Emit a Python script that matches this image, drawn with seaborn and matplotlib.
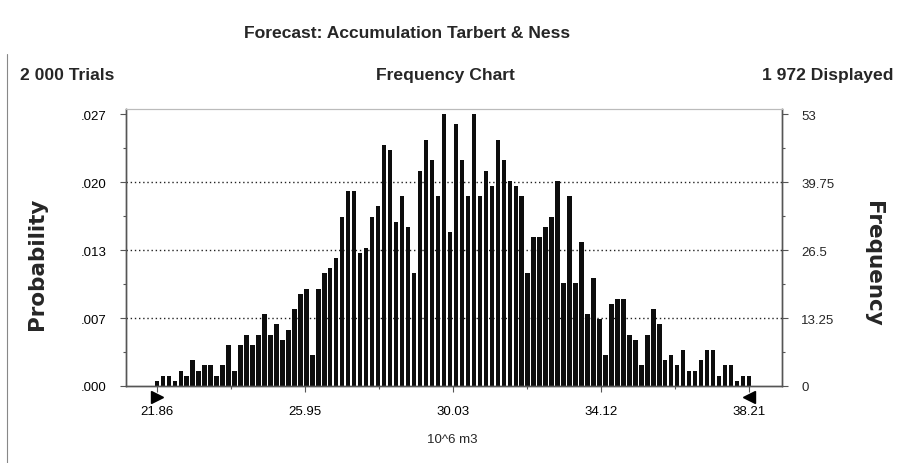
import numpy as np
import pandas as pd
import matplotlib
matplotlib.use("Agg")
import matplotlib.pyplot as plt
import matplotlib.transforms as mtransforms
from matplotlib.lines import Line2D
import seaborn as sns

# ---------------- data ----------------
title = "Forecast: Accumulation Tarbert & Ness"
trials_text = "2 000 Trials"
chart_text = "Frequency Chart"
displayed_text = "1 972 Displayed"
x_label = "10^6 m3"
left_label = "Probability"
right_label = "Frequency"

x_min, x_max = 21.86, 38.21
x_tick_labels = ["21.86", "25.95", "30.03", "34.12", "38.21"]
freq_ticks = [0, 13.25, 26.5, 39.75, 53]
freq_tick_labels = ["0", "13.25", "26.5", "39.75", "53"]
prob_tick_labels = [".000", ".007", ".013", ".020", ".027"]

frequency = [
    1, 2, 2, 1, 3, 2, 5, 3, 4, 4,
    2, 4, 8, 3, 8, 10, 8, 10, 14, 10,
    12, 9, 11, 15, 18, 19, 6, 19, 22, 23,
    25, 33, 38, 38, 26, 27, 33, 35, 47, 46,
    32, 37, 31, 22, 42, 48, 44, 37, 53, 30,
    51, 44, 37, 53, 37, 42, 39, 48, 44, 40,
    39, 37, 22, 29, 29, 31, 33, 40, 20, 37,
    20, 28, 14, 21, 13, 6, 16, 17, 17, 10,
    9, 4, 10, 15, 12, 5, 6, 4, 7, 3,
    3, 5, 7, 7, 2, 4, 4, 1, 2, 2,
]

centers = np.linspace(x_min, x_max, len(frequency))
df = pd.DataFrame({"value": centers, "count": frequency})

# ---------------- style ----------------
sns.set_theme(style="white")
narrow = ["Liberation Sans Narrow", "Liberation Sans", "DejaVu Sans"]
plt.rcParams["font.family"] = ["Liberation Sans", "DejaVu Sans"]

W, H = 899, 464
fig = plt.figure(figsize=(W / 100, H / 100), dpi=100)
fig.patch.set_facecolor("white")

ax_l, ax_r, ax_t, ax_b = 126, 782, 110, 387
ax = fig.add_axes([ax_l / W, 1 - ax_b / H, (ax_r - ax_l) / W, (ax_b - ax_t) / H])
ax.set_facecolor("white")

sns.barplot(data=df, x="value", y="count", native_scale=True, width=0.74,
            color="#0d0d0d", saturation=1, linewidth=0, ax=ax)

ax.set_xlim(21.01, 39.12)
ax.set_ylim(0, 54)

# dotted gridlines
ax.hlines(freq_ticks[1:-1], 21.01, 39.12, colors="#222222", linestyles=(0, (1, 2)),
          linewidth=1.0, zorder=0.5)

# ticks
xt = np.linspace(x_min, x_max, len(x_tick_labels))
ax.set_xticks(xt)
ax.set_xticklabels(x_tick_labels, fontsize=9.5, family=narrow)
ax.set_xticks(np.linspace(x_min, x_max, 2 * len(x_tick_labels) - 1), minor=True)
ax.set_yticks(freq_ticks)
ax.set_yticklabels(prob_tick_labels, fontsize=9.5, family=narrow)
ax.set_yticks([(a + b) / 2 for a, b in zip(freq_ticks[:-1], freq_ticks[1:])], minor=True)
ax.tick_params(axis="both", which="major", direction="out", length=4, width=0.8,
               color="#555555", labelcolor="black")
ax.tick_params(axis="both", which="minor", direction="out", length=2, width=0.8,
               color="#555555")
ax.tick_params(axis="x", which="major", pad=10)
ax.tick_params(axis="y", which="major", pad=10, left=True)
ax.tick_params(axis="x", which="both", bottom=True)
ax.tick_params(axis="y", which="minor", left=True)
ax.set_xlabel("")
ax.set_ylabel("")

ax2 = ax.twinx()
ax2.set_ylim(ax.get_ylim())
ax2.set_yticks(freq_ticks)
ax2.set_yticklabels(freq_tick_labels, fontsize=9.5, family=narrow)
ax2.set_yticks([(a + b) / 2 for a, b in zip(freq_ticks[:-1], freq_ticks[1:])], minor=True)
ax2.tick_params(axis="y", which="major", direction="out", length=4, width=0.8,
                color="#555555", pad=10, right=True)
ax2.tick_params(axis="y", which="minor", direction="out", length=2, width=0.8,
                color="#555555", right=True)
ax2.grid(False)

for a in (ax, ax2):
    for side in ("left", "right", "bottom"):
        a.spines[side].set_color("#555555")
        a.spines[side].set_linewidth(1.0)
        a.spines[side].set_visible(True)
    a.spines["top"].set_color("#bbbbbb")
    a.spines["top"].set_linewidth(0.8)

# range markers below the axis
trans = mtransforms.blended_transform_factory(ax.transData, ax.transAxes)
ax.plot([x_min], [-0.04], marker=">", markersize=9, color="black", transform=trans,
        clip_on=False, linestyle="none")
ax.plot([x_max], [-0.04], marker="<", markersize=9, color="black", transform=trans,
        clip_on=False, linestyle="none")

# texts
fs_head = 12.6
fig.text(407 / W, 1 - 33 / H, title, ha="center", va="center", fontsize=fs_head,
         fontweight="bold")
fig.text(20 / W, 1 - 76 / H, trials_text, ha="left", va="center", fontsize=fs_head,
         fontweight="bold")
fig.text(445 / W, 1 - 76 / H, chart_text, ha="center", va="center", fontsize=fs_head,
         fontweight="bold")
fig.text(893 / W, 1 - 76 / H, displayed_text, ha="right", va="center", fontsize=fs_head,
         fontweight="bold")
fig.text(452 / W, 1 - 440 / H, x_label, ha="center", va="center", fontsize=9.5,
         family=narrow)
fig.text(37 / W, 1 - 264 / H, left_label, ha="center", va="center", rotation=90,
         fontsize=15.5, fontweight="bold", family=["DejaVu Sans"])
fig.text(873 / W, 1 - 264 / H, right_label, ha="center", va="center", rotation=-90,
         fontsize=15.5, fontweight="bold", family=["DejaVu Sans"])

# scan border line on the left
fig.add_artist(Line2D([7 / W, 7 / W], [0.0, 1 - 55 / H], transform=fig.transFigure,
                      color="#888888", linewidth=0.8))

fig.savefig("out.png", dpi=100, facecolor="white")
